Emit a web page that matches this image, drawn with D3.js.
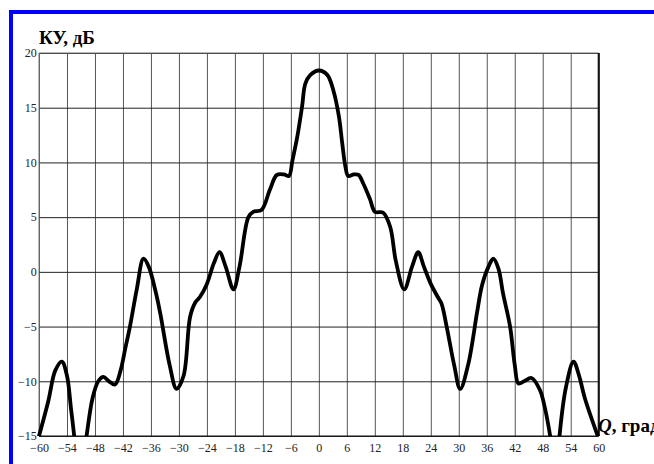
<!DOCTYPE html>
<html><head><meta charset="utf-8">
<script src="https://cdn.jsdelivr.net/npm/d3@7/dist/d3.min.js"></script>
<style>
html,body{margin:0;padding:0;background:#fff;overflow:hidden;}
svg{display:block;}
.tick text{font-family:"Liberation Serif","Times New Roman",serif;font-size:12px;fill:#222;}
</style></head>
<body>
<svg id="chart" width="654" height="464"></svg>
<script>
// Angle (degrees) and gain (dB)
const angles = [-60,-58,-56.5,-55.1,-54,-53,-51,-49.8,-48.5,-47.3,-46.2,-45,-43.7,-42.5,-41.5,-40.5,-39,-37.6,-36.5,-35,-34,-32,-30.5,-29,-27.6,-26.5,-25.5,-24,-22.5,-21.3,-20,-18.3,-17,-15.1,-14,-12.3,-10.5,-9,-7.5,-6.4,-5.7,-4.6,-3.6,-2.9,-1.8,0,
  1.8,3.1,4.3,5.0,5.7,6.3,7.5,8.5,9.5,11.0,12.0,13.8,15.3,16.5,18.3,20,21.3,22.5,24,25.5,26.3,27.4,29,30.3,32,34,35,36.4,37.4,38.5,39.5,41.0,42,42.8,44,45.6,47.4,48.5,49.6,51,51.6,53,54.6,55.8,57,59.8];
const gains  = [-15,-11.8,-9.0,-8.2,-9.5,-13,-19,-15,-11.5,-10.0,-9.6,-10.0,-10.3,-9.0,-7.0,-5.0,-1.5,1.2,0.5,-1.8,-3.8,-8.5,-10.7,-9.5,-4.1,-2.8,-2.3,-1.1,0.8,1.8,0.5,-1.6,0.5,5.0,5.5,5.65,7.5,8.86,8.9,8.76,10.1,12.4,15.1,17.2,18.0,18.4,
  18.0,16.6,14.2,11.8,9.6,8.76,8.9,8.86,8.1,6.6,5.5,5.4,4.1,1.0,-1.6,0.5,1.8,0.5,-1.1,-2.3,-2.9,-5.0,-8.5,-10.7,-8.5,-3.5,-1.2,0.5,1.2,0.3,-2.0,-5.0,-8.5,-10.2,-10.0,-9.7,-10.8,-12.5,-15,-19,-15,-10.5,-8.2,-9.5,-11.5,-15];
const xTicks = d3.range(-60, 61, 6);
const yTicks = d3.range(-15, 21, 5);
const titleY = "КУ, дБ";
const titleX = ", град";

const svg = d3.select("#chart");
const x = d3.scaleLinear().domain([-60, 60]).range([39, 598.7]);
const y = d3.scaleLinear().domain([-15, 20]).range([436, 53]);

// blue frame
svg.append("rect").attr("x", 9).attr("y", 10).attr("width", 645).attr("height", 4).attr("fill", "#0000ff");
svg.append("rect").attr("x", 9).attr("y", 10).attr("width", 4).attr("height", 454).attr("fill", "#0000ff");

// grid + axes
const gx = svg.append("g").attr("transform", `translate(0,${y(-15)})`)
  .call(d3.axisBottom(x).tickValues(xTicks).tickSizeInner(-(y(-15) - y(20))).tickSizeOuter(0).tickPadding(7)
    .tickFormat(d => String(d).replace("-", "\u2212")));
gx.select(".domain").remove();
gx.selectAll(".tick line").attr("stroke", "#555").attr("stroke-width", 1);

const gy = svg.append("g").attr("transform", `translate(${x(-60)},0)`)
  .call(d3.axisLeft(y).tickValues(yTicks).tickSizeInner(-(x(60) - x(-60))).tickSizeOuter(0).tickPadding(2.3)
    .tickFormat(d => String(d).replace("-", "\u2212")));
gy.select(".domain").remove();
gy.selectAll(".tick line").attr("stroke", "#222").attr("stroke-width", 1);

// frame
svg.append("line").attr("x1", x(-60)).attr("x2", x(60)).attr("y1", y(20)).attr("y2", y(20)).attr("stroke", "#777");
svg.append("line").attr("x1", x(-60)).attr("x2", x(-60)).attr("y1", y(20)).attr("y2", y(-15)).attr("stroke", "#777");
svg.append("line").attr("x1", x(60)).attr("x2", x(60)).attr("y1", y(20)).attr("y2", y(-15)).attr("stroke", "#111").attr("stroke-width", 2);
svg.append("line").attr("x1", x(-60)).attr("x2", x(60)).attr("y1", y(-15)).attr("y2", y(-15)).attr("stroke", "#111").attr("stroke-width", 1.2);

// clip
svg.append("clipPath").attr("id", "clip").append("rect")
  .attr("x", x(-60) - 3).attr("y", y(20)).attr("width", x(60) - x(-60) + 6).attr("height", y(-15) - y(20));

const data = angles.map((a, i) => [a, gains[i]]);
const line = d3.line().x(d => x(d[0])).y(d => y(d[1])).curve(d3.curveCatmullRom.alpha(0.5));
svg.append("path").datum(data).attr("clip-path", "url(#clip)")
  .attr("d", line).attr("fill", "none").attr("stroke", "#000").attr("stroke-width", 3.8)
  .attr("stroke-linejoin", "round").attr("stroke-linecap", "round");

// titles
svg.append("text").attr("x", 39).attr("y", 44)
  .attr("font-family", "Liberation Serif, Times New Roman, serif").attr("font-weight", "bold").attr("font-size", 19)
  .attr("fill", "#000").text(titleY);
const tx = svg.append("text").attr("x", 598).attr("y", 432)
  .attr("font-family", "Liberation Serif, Times New Roman, serif").attr("font-weight", "bold").attr("font-size", 19)
  .attr("fill", "#000");
tx.append("tspan").attr("font-style", "italic").text("Q");
tx.append("tspan").text(titleX);
</script>
</body></html>
